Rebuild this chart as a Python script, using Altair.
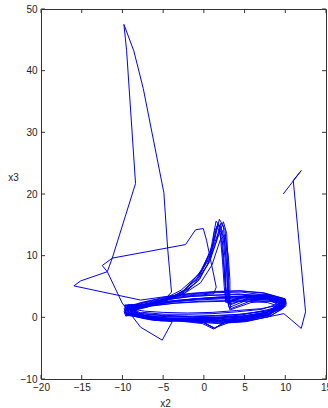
import altair as alt
import pandas as pd

# trajectory (x2, x3), in drawing order
seg_start = [(9.75, 20.0), (11.96, 23.8), (10.98, 22.2), (12.49, 0.9), (11.96, -1.8), (10.73, -0.4), (9.82, 0.6),
             (7.6, 0.0), (4.6, -0.7), (1.6, -1.0), (-1.4, -0.7), (-4.4, -0.5), (-7.6, 0.0)]

loops_a = [
    (-9.3, 0.4), (-9.7, 1.3), (-7.8, 2.3), (-4.6, 3.2), (-1.4, 3.7), (1.6, 4.0), (4.6, 4.1), (7.6, 3.6),
    (9.6, 3.0), (10.0, 2.1),
    (7.8, 0.3), (4.8, -0.6), (1.8, -0.9), (-1.3, -0.6), (-4.4, -0.5), (-7.6, -0.1),
    (-9.4, 1.8), (-7.4, 2.0), (-4.3, 2.9), (-1.6, 3.4), (1.4, 3.6), (4.3, 3.8), (7.3, 3.4), (9.9, 2.8),
    (7.5, 0.6), (4.4, -0.3), (1.6, -0.6), (-1.5, -0.3), (-4.6, -0.2), (-7.4, 0.3),
    (-9.2, 0.6), (-9.4, 1.6), (-7.0, 2.2), (-5.0, 2.9), (-2.8, 4.4), (-0.6, 7.0), (0.8, 10.6), (1.5, 15.6),
    (2.1, 14.6), (2.4, 10.5), (2.6, 6.0), (2.8, 2.6), (4.8, 3.3), (7.6, 3.5), (9.9, 1.8), (7.7, 0.5),
    (4.6, -0.5), (2.7, -0.6), (1.3, -1.8), (-0.1, -0.8), (-2.5, -0.4), (-5.2, -0.6), (-7.8, 0.0),
    (-9.6, 0.4), (-7.6, 1.8), (-4.4, 2.6), (-1.3, 3.0), (1.7, 3.2), (4.7, 3.3), (7.7, 3.0), (9.6, 2.6),
    (9.5, 1.5), (7.4, 0.8), (4.5, 0.1), (1.5, -0.3), (-1.6, -0.2), (-4.5, -0.1), (-7.5, 0.2),
    (-9.5, 1.9), (-7.2, 2.1), (-4.8, 2.8), (-2.6, 4.2), (-0.3, 7.4), (1.0, 11.2), (1.7, 15.2), (2.3, 14.0),
    (2.6, 9.5), (2.7, 5.0), (3.0, 2.2), (5.2, 3.6), (8.0, 3.7), (10.1, 2.7), (8.0, 0.4), (5.0, -0.4),
    (2.2, -0.8), (-0.8, -0.6), (-3.8, -0.4), (-7.0, -0.1),
    (-9.0, 1.0), (-8.8, 1.7), (-6.8, 2.2), (-3.8, 2.7), (-0.8, 3.0), (2.2, 3.3), (5.2, 3.5), (7.8, 3.1),
    (9.7, 1.6), (7.6, 1.0), (4.6, 0.5), (1.6, 0.2), (-1.4, 0.1), (-4.4, 0.2), (-7.2, 0.5),
    (-9.7, 0.7), (-7.5, 1.9), (-5.2, 2.7), (-3.0, 3.8), (-1.0, 6.0), (0.6, 9.4), (1.9, 14.2), (2.5, 13.0),
    (2.8, 8.5), (2.9, 4.0), (3.1, 1.6), (5.5, 2.9), (8.2, 3.0), (9.9, 2.4), (9.6, 1.3), (7.9, 0.1),
    (5.2, -0.7), (3.0, -0.9), (1.3, -1.7), (0.0, -0.9), (-2.8, -0.5), (-6.0, -0.4), (-8.2, 0.2),
]

excursion_a = [(-9.2, 1.3), (-7.1, 1.6), (-5.0, 2.6), (-3.97, 4.1), (-4.46, 11.4), (-4.91, 20.2), (-7.44, 37.1),
               (-8.6, 43.2), (-9.82, 47.5), (-9.49, 43.3), (-8.39, 21.7), (-11.25, 9.6), (-11.86, 7.4),
               (-10.02, 2.3), (-7.77, -1.6), (-5.11, -3.7), (-3.88, -0.7), (-6.4, -0.3), (-8.8, 0.4)]

loops_b = [
    (-9.5, 0.5), (-9.8, 1.5), (-7.7, 2.4), (-4.7, 3.3), (-1.7, 3.8), (1.3, 4.1), (4.3, 4.3), (7.3, 4.0),
    (10.0, 3.0), (10.1, 2.2), (7.9, 0.9), (4.9, 0.0), (1.9, -0.5), (-1.1, -0.5), (-4.1, -0.6), (-7.3, -0.2),
    (-9.3, 2.0), (-7.0, 2.0), (-4.6, 2.7), (-2.4, 3.9), (-0.5, 6.2), (0.9, 9.8), (1.3, 14.0), (1.8, 15.0),
    (2.2, 12.0), (2.5, 7.5), (2.7, 3.5), (3.2, 1.2), (5.8, 2.4), (8.4, 2.7), (10.0, 2.2), (8.1, 0.7),
    (5.1, 0.0), (2.1, -0.4), (-0.9, -0.3), (-3.9, -0.3), (-6.9, 0.0),
    (-8.9, 1.0), (-6.6, 1.8), (-3.6, 2.3), (-0.6, 2.6), (2.4, 2.7), (5.4, 2.8), (8.0, 2.6), (9.4, 2.3),
    (7.1, 1.3), (4.1, 0.9), (1.1, 0.6), (-1.9, 0.5), (-4.9, 0.5), (-7.5, 0.8),
    (-9.6, 0.2), (-9.8, 1.0), (-7.4, 1.9), (-5.4, 2.5), (-3.2, 3.5), (-1.2, 5.4), (0.4, 8.4), (1.5, 12.2),
    (2.1, 15.3), (2.6, 14.2), (2.9, 9.0), (3.0, 4.5), (3.2, 2.0), (5.6, 3.2), (8.3, 3.4), (10.0, 2.9),
    (10.1, 1.9), (8.2, 0.2), (5.3, -0.6), (2.8, -0.7), (1.2, -1.9), (-0.2, -1.0), (-3.0, -0.6), (-6.2, -0.5),
    (-8.4, 0.1),
    (-9.4, 1.6), (-7.3, 1.7), (-4.3, 2.4), (-1.3, 2.9), (1.7, 3.1), (4.7, 3.2), (7.6, 3.1), (9.8, 1.6),
    (7.6, 0.7), (4.6, 0.2), (1.6, 0.0), (-1.4, 0.0), (-4.4, 0.1), (-7.4, 0.3),
    (-9.3, 0.5), (-9.4, 1.4), (-6.8, 2.1), (-4.4, 2.9), (-2.2, 4.6), (-0.2, 7.8), (1.1, 11.8), (1.6, 14.8),
    (2.0, 13.6), (2.3, 9.0), (2.5, 5.0), (2.7, 2.4), (5.0, 3.5), (7.9, 3.6), (9.9, 2.7), (7.8, 0.4),
    (4.8, -0.4), (1.8, -0.7), (-1.2, -0.4), (-4.2, -0.3), (-7.2, 0.0),
]

excursion_b = [(-9.8, 1.9), (-7.8, 2.2), (-4.8, 3.0), (-1.8, 3.5), (1.2, 3.8), (1.52, 4.9), (0.33, 12.5),
               (-0.07, 14.4), (-1.02, 14.2), (-2.25, 11.8), (-11.25, 9.6), (-12.48, 8.4), (-11.86, 7.4),
               (-15.14, 5.9), (-15.96, 5.1), (-7.77, 2.8), (-4.5, 3.4), (-1.5, 3.9), (1.5, 4.2), (4.5, 4.3),
               (7.4, 3.9), (9.9, 3.0), (10.0, 2.0), (7.7, 1.2), (4.7, 0.4), (1.7, 0.0), (-1.3, -0.1),
               (-4.3, -0.2), (-7.6, 0.1)]

loops_c = [
    (-9.5, 0.3), (-9.7, 1.2), (-7.3, 1.8), (-5.0, 2.6), (-2.9, 3.6), (-0.8, 5.8), (0.7, 9.0), (1.6, 12.5),
    (2.4, 15.5), (2.8, 13.6), (3.0, 8.0), (3.1, 3.6), (3.3, 1.4), (6.0, 2.8), (8.6, 3.0), (10.1, 2.5),
    (8.0, 0.3), (5.0, -0.3), (2.5, -0.5), (-0.5, -0.5), (-3.5, -0.5), (-6.6, -0.2),
    (-9.1, 1.7), (-6.9, 1.9), (-3.9, 2.5), (-0.9, 2.8), (2.1, 3.0), (5.1, 3.0), (7.9, 2.8), (9.6, 2.5),
    (9.6, 1.6), (7.4, 1.0), (4.4, 0.5), (1.4, 0.3), (-1.6, 0.2), (-4.6, 0.3), (-7.3, 0.6),
    (-9.4, 0.6), (-7.5, 2.0), (-5.1, 2.8), (-2.7, 4.0), (-0.6, 6.6), (0.8, 10.2), (1.4, 13.0), (1.9, 15.9),
    (2.4, 14.8), (2.7, 10.0), (2.9, 5.5), (3.1, 2.5), (5.4, 3.4), (8.1, 3.5), (10.0, 1.8), (7.9, 0.4),
    (4.9, -0.5), (2.6, -0.7), (1.3, -1.8), (0.0, -0.8), (-2.6, -0.5), (-5.6, -0.5), (-8.0, 0.0),
    (-9.5, 1.4), (-7.2, 1.8), (-4.2, 2.5), (-1.2, 3.0), (1.8, 3.3), (4.8, 3.4), (7.7, 3.2), (9.8, 2.8),
    (7.6, 0.6), (4.6, 0.0), (1.6, -0.2), (-1.4, -0.2), (-4.4, -0.1), (-7.4, 0.3),
    (-9.5, 0.4), (-9.6, 1.5), (-7.0, 2.0), (-4.6, 2.8), (-2.5, 3.8), (-0.4, 5.6), (1.0, 8.5), (2.0, 12.5),
    (2.6, 13.4), (3.0, 10.0), (3.2, 6.0), (3.2, 2.2), (5.6, 3.0), (8.2, 3.2), (9.9, 2.4), (9.8, 1.5),
    (7.8, 0.5), (4.8, -0.2), (1.8, -0.5), (-1.2, -0.4), (-4.2, -0.4), (-7.2, -0.1),
    (-9.7, 2.0), (-7.5, 2.1), (-4.5, 2.9), (-1.5, 3.4), (1.5, 3.6), (4.5, 3.7), (7.4, 3.4), (10.0, 2.6),
    (7.7, 0.8), (4.7, 0.2), (1.7, -0.1), (-1.3, -0.2), (-4.3, -0.3), (-7.5, 0.0),
    (-8.5, 1.3), (-6.5, 1.9), (-3.5, 2.3), (-0.5, 2.5), (2.5, 2.6), (5.5, 2.6), (7.8, 2.4), (9.0, 1.9),
    (7.0, 1.4), (4.0, 1.1), (1.0, 0.8), (-2.0, 0.7), (-5.0, 0.8), (-7.3, 1.0), (-8.6, 1.3),
]

x_ticks = [-20, -15, -10, -5, 0, 5, 10, 15]
y_ticks = [-10, 0, 10, 20, 30, 40, 50]

path = seg_start + loops_a + excursion_a + loops_b + excursion_b + loops_c
df = pd.DataFrame({"t": list(range(len(path))),
                   "x2": [p[0] for p in path],
                   "x3": [p[1] for p in path]})
dfx = pd.DataFrame({"v": x_ticks})
dfy = pd.DataFrame({"v": y_ticks})

W, H = 285, 370
FONT = "Liberation Sans"
xs = alt.Scale(domain=[-20, 15], nice=False, zero=False)
ys = alt.Scale(domain=[-10, 50], nice=False, zero=False)

line = alt.Chart(df).mark_line(color="#0000ff", strokeWidth=1, clip=True).encode(
    x=alt.X("x2:Q", scale=xs, axis=alt.Axis(
        values=x_ticks, ticks=False, grid=False, domain=False, labelFont=FONT, labelFontSize=10,
        labelColor="#222222", labelPadding=3, labelFlush=False, title="x2", titleFont=FONT,
        titleFontSize=10, titleFontWeight="normal", titleColor="#222222", titleX=124, titleY=24,
        titleAlign="center", titleBaseline="middle")),
    y=alt.Y("x3:Q", scale=ys, axis=alt.Axis(
        values=y_ticks, ticks=False, grid=False, domain=False, labelFont=FONT, labelFontSize=10,
        labelColor="#222222", labelPadding=4, labelFlush=False, title="x3", titleFont=FONT,
        titleFontSize=10, titleFontWeight="normal", titleColor="#222222", titleAngle=0,
        titleX=-28, titleY=168, titleAlign="center", titleBaseline="middle")),
    order="t:Q",
)

tick_color = "#333333"
xt_bottom = alt.Chart(dfx).mark_rule(color=tick_color, strokeWidth=1).encode(
    x=alt.X("v:Q", scale=xs), y=alt.value(H), y2=alt.value(H - 4))
xt_top = alt.Chart(dfx).mark_rule(color=tick_color, strokeWidth=1).encode(
    x=alt.X("v:Q", scale=xs), y=alt.value(0), y2=alt.value(4))
yt_left = alt.Chart(dfy).mark_rule(color=tick_color, strokeWidth=1).encode(
    y=alt.Y("v:Q", scale=ys), x=alt.value(0), x2=alt.value(4))
yt_right = alt.Chart(dfy).mark_rule(color=tick_color, strokeWidth=1).encode(
    y=alt.Y("v:Q", scale=ys), x=alt.value(W), x2=alt.value(W - 4))

chart = alt.layer(line, xt_bottom, xt_top, yt_left, yt_right).properties(
    width=W, height=H,
    padding={"left": 41, "top": 9, "right": 2, "bottom": 29},
    autosize=alt.AutoSizeParams(type="none"),
    background="white",
).configure_view(stroke="#333333", strokeWidth=1)

chart.save("out.html", embed_options={"renderer": "svg", "actions": False})
